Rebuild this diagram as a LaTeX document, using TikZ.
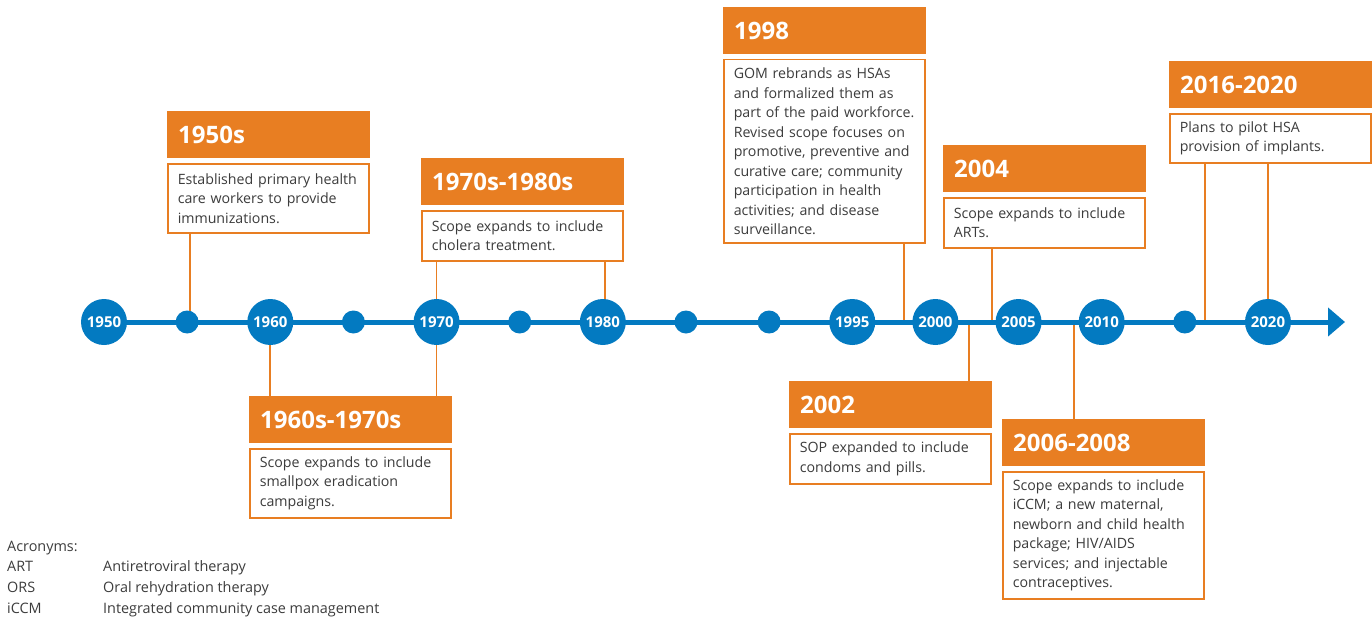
\documentclass[tikz,border=0pt]{standalone}
\usepackage{fontspec}
\setmainfont{Open Sans}
\usetikzlibrary{arrows.meta}
\definecolor{hsaorange}{RGB}{232,126,34}
\definecolor{hsablue}{RGB}{3,122,193}
\definecolor{hsatext}{RGB}{60,60,60}
\tikzset{
    year/.style={
        circle, fill=hsablue, minimum size=46pt, inner sep=0pt,
        text=white, font=\bfseries\fontsize{15}{15}\selectfont
    },
    dot/.style={circle, fill=hsablue, minimum size=23pt, inner sep=0pt},
    head/.style={
        anchor=north west, fill=hsaorange, minimum width=203pt, minimum height=47pt,
        inner xsep=11pt, inner ysep=0pt, text width=181pt, align=left,
        text height=17pt, text depth=0pt,
        text=white, font=\bfseries\fontsize{24}{28}\selectfont
    },
    body/.style={
        anchor=north west, draw=hsaorange, line width=1.5pt, fill=white,
        inner xsep=10pt, inner ysep=6pt, text width=181pt, align=left,
        text=hsatext, font=\fontsize{14.2}{19.5}\selectfont
    },
    link/.style={draw=hsaorange, line width=1.6pt},
    acro/.style={anchor=base west, inner sep=0pt, text=hsatext, font=\fontsize{14.4}{17}\selectfont}
}
% name, x, y of header, height of body, title, text
\newcommand{\milestone}[6] {
	\node[head] (h#1) at (#2,#3) {#5};
	\node[body, minimum height=#4] (b#1) at (#2,#3+52) {#6};
}

\begin{document}
\begin{tikzpicture}[x=1pt, y=-1pt]
		\useasboundingbox (0,0) rectangle (1372,618);

		% timeline points
		\foreach \i in {0,...,14} {
			\coordinate (t\i) at (104+83.14*\i,322);
		}
		\coordinate (tip) at (1345,322);
		\coordinate (k1998) at (904,322);
		\coordinate (k2002) at (969,322);
		\coordinate (k2004) at (992,322);
		\coordinate (k2006) at (1074,322);
		\coordinate (k2016) at (1205,322);

		% boxes above and below
		\milestone{1950}{167}{111}{69pt}{1950s}{Established primary health\\care workers to provide\\immunizations.}
		\milestone{1960}{249}{396}{69pt}{1960s-1970s}{Scope expands to include\\smallpox eradication\\campaigns.}
		\milestone{1970}{421}{158}{50pt}{1970s-1980s}{Scope expands to include\\cholera treatment.}
		\milestone{1998}{723}{7}{183pt}{1998}{GOM rebrands as HSAs\\and formalized them as\\part of the paid workforce.\\Revised scope focuses on\\promotive, preventive and\\curative care; community\\participation in health\\activities; and disease\\surveillance.}
		\milestone{2002}{789}{381}{50pt}{2002}{SOP expanded to include\\condoms and pills.}
		\milestone{2004}{943}{145}{50pt}{2004}{Scope expands to include\\ARTs.}
		\milestone{2006}{1002}{419}{127pt}{2006-2008}{Scope expands to include\\iCCM; a new maternal,\\newborn and child health\\package; HIV/AIDS\\services; and injectable\\contraceptives.}
		\milestone{2016}{1169}{61}{49pt}{2016-2020}{Plans to pilot HSA\\provision of implants.}

		% connectors
		\draw[link] ([xshift=3pt]t1) -- ([xshift=3pt]t1 |- b1950.south);
		\draw[link] (t2) -- (t2 |- h1960.north);
		\draw[link] (t4) -- (t4 |- h1960.north);
		\draw[link] (t4) -- (t4 |- b1970.south);
		\draw[link] ([xshift=2pt]t6) -- ([xshift=2pt]t6 |- b1970.south);
		\draw[link] (k1998) -- (k1998 |- b1998.south);
		\draw[link] (k2002) -- (k2002 |- h2002.north);
		\draw[link] (k2004) -- (k2004 |- b2004.south);
		\draw[link] (k2006) -- (k2006 |- h2006.north);
		\draw[link] (k2016) -- (k2016 |- b2016.south);
		\draw[link] (t14) -- (t14 |- b2016.south);

		% timeline
		\draw[hsablue, line width=5pt, -{Triangle[length=17pt, width=28pt]}] (t0) -- (tip);
		\foreach \i/\yr in {0/1950, 2/1960, 4/1970, 6/1980, 9/1995, 10/2000, 11/2005, 12/2010, 14/2020} {
			\node[year] (y\yr) at (t\i) {\yr};
		}
		\foreach \i in {1,3,5,7,8,13} {
			\node[dot] (d\i) at (t\i) {};
		}

		% acronyms
		\node[acro] (acr) at (7,551) {Acronyms:};
		\node[acro] (art) at (7,571) {ART};
		\node[acro] (ors) at (7,592) {ORS};
		\node[acro] (iccm) at (7,613) {iCCM};
		\node[acro] (artx) at (103,571) {Antiretroviral therapy};
		\node[acro] (orsx) at (103,592) {Oral rehydration therapy};
		\node[acro] (iccmx) at (103,613) {Integrated community case management};
	\end{tikzpicture}
\end{document}
